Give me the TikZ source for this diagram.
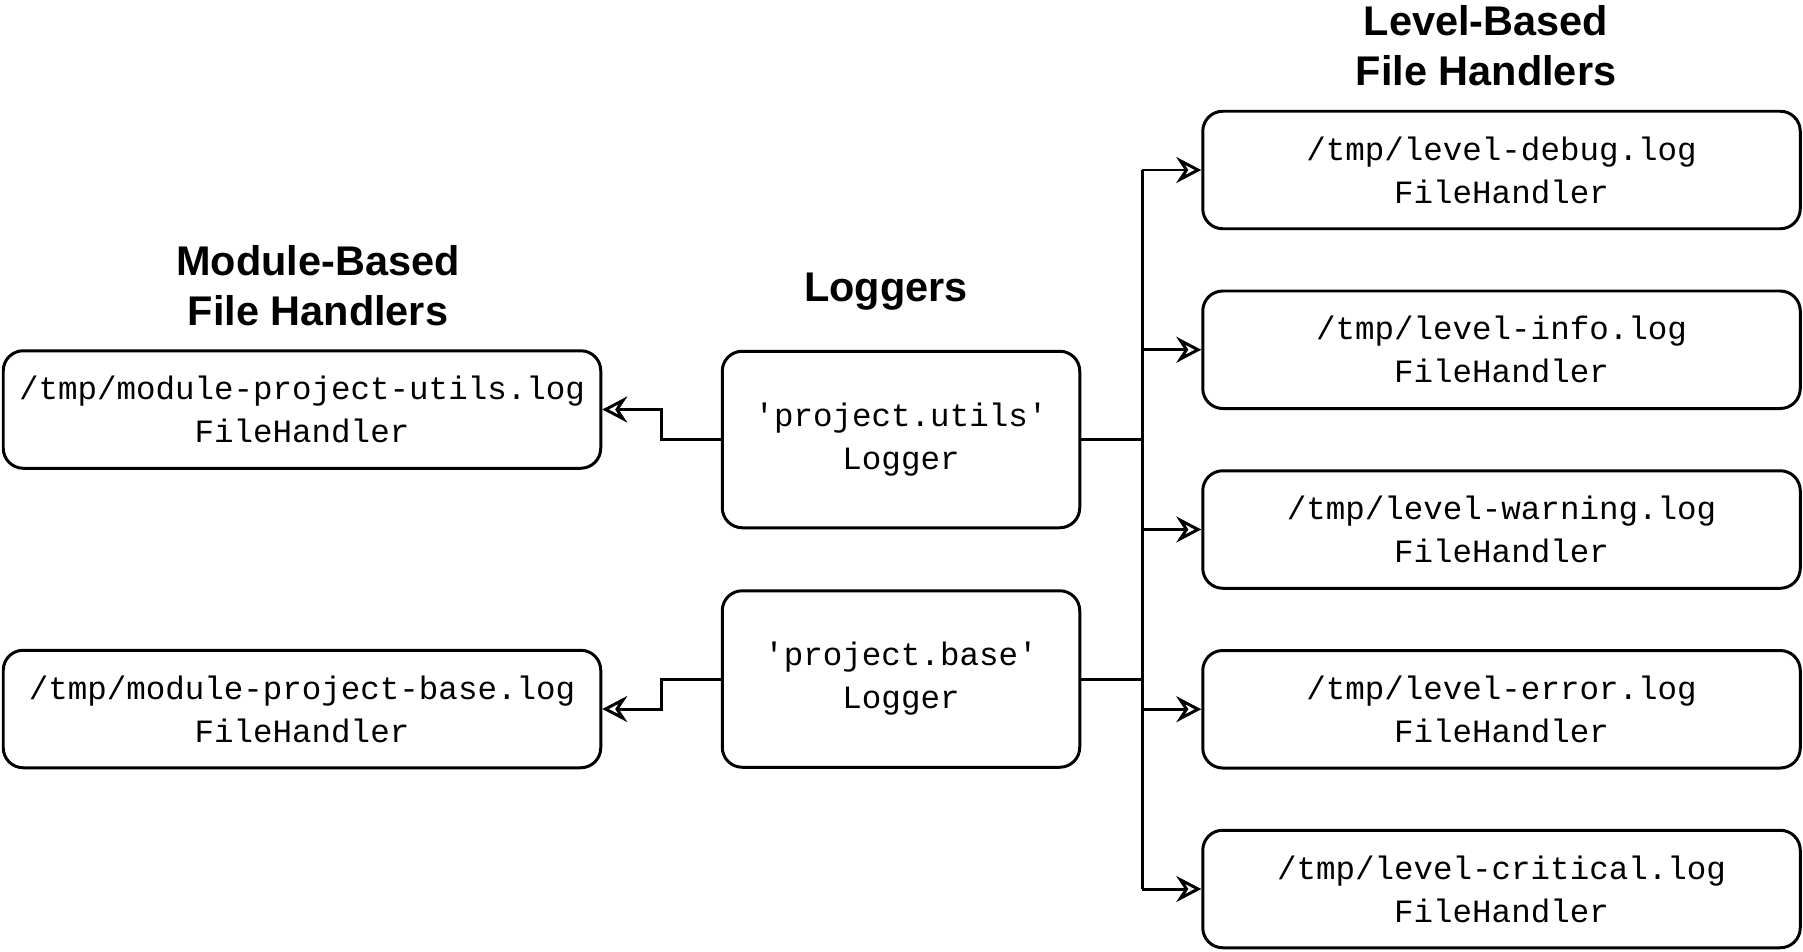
\documentclass[tikz,border=0pt]{standalone}
\usepackage{fontspec}
\setsansfont{Liberation Sans}
\newfontfamily\codefont{Liberation Mono}
\usepackage{tikz}
\usetikzlibrary{arrows.meta}

\begin{document}
\begin{tikzpicture}[
        box/.style = {draw, line width=1.7pt, rounded corners=0.4cm, align=center,
                      font=\codefont\fontsize{18.5}{24.5}\selectfont, inner sep=0pt},
        filebox/.style = {box, minimum width=11.95cm, minimum height=2.35cm},
        logbox/.style = {box, minimum width=7.15cm, minimum height=3.53cm},
        heading/.style = {align=center, font=\sffamily\bfseries\fontsize{23.6}{28.5}\selectfont},
        wire/.style = {line width=1.7pt},
        arr/.style = {wire, -{Stealth[open, length=0.5cm, width=0.52cm, inset=0.17cm]}}
    ]
        \useasboundingbox (0,0) rectangle (36.06,-19.02);

        \node[heading] (tmodule) at (6.36,-5.72) {Module-Based\\File Handlers};
        \node[heading] (tlogger) at (17.72,-5.84) {Loggers};
        \node[heading] (tlevel) at (29.72,-0.92) {Level-Based\\File Handlers};

        \node[filebox] (modutils) at (6.04,-8.19) {/tmp/module-project-utils.log\\FileHandler};
        \node[filebox] (modbase) at (6.04,-14.18) {/tmp/module-project-base.log\\FileHandler};

        \node[logbox] (logutils) at (18.02,-8.79) {'project.utils'\\Logger};
        \node[logbox] (logbase) at (18.02,-13.58) {'project.base'\\Logger};

        \foreach \lvl [count=\i from 0] in {debug, info, warning, error, critical}
            \node[filebox] (lv\lvl) at (30.03,-3.4-3.595*\i) {/tmp/level-\lvl.log\\FileHandler};

        \coordinate (elbow) at (13.22,0);
        \coordinate (trunk) at (22.84,0);

        % loggers to module handlers
        \draw[arr] (logutils.west) -- (logutils.west -| elbow) |- (modutils.east);
        \draw[arr] (logbase.west) -- (logbase.west -| elbow) |- (modbase.east);

        % loggers to level handlers
        \draw[wire] (logutils.east) -- (logutils.east -| trunk);
        \draw[wire] (logbase.east) -- (logbase.east -| trunk);
        \draw[wire] (lvdebug.west -| trunk) -- (lvcritical.west -| trunk);
        \foreach \lvl in {debug, info, warning, error, critical}
            \draw[arr] (lv\lvl.west -| trunk) -- (lv\lvl.west);
      \end{tikzpicture}
\end{document}
